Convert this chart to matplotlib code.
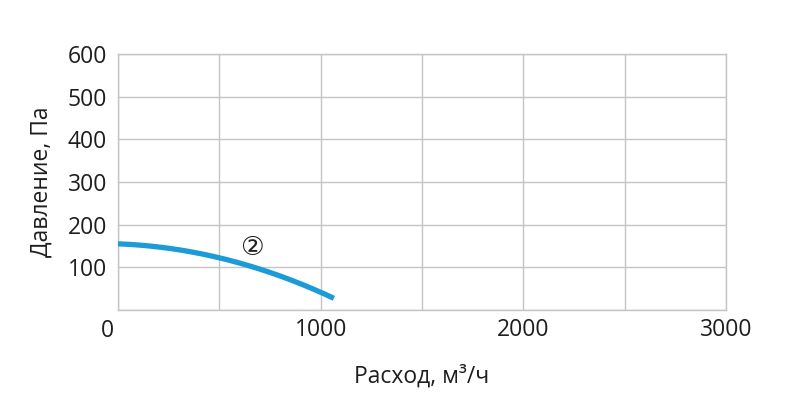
import numpy as np
import matplotlib.pyplot as plt

plt.rcParams['font.family'] = ['Open Sans', 'DejaVu Sans']

# curve
flow = [0, 250, 500, 750, 1000, 1065]
pressure = [155, 145, 122, 88, 42, 27]
curve_label = '②'
label_pos = (660, 146)

xticks = [0, 500, 1000, 1500, 2000, 2500, 3000]
xticklabels = ['', '', '1000', '', '2000', '', '3000']
yticks = [0, 100, 200, 300, 400, 500, 600]
yticklabels = ['', '100', '200', '300', '400', '500', '600']

fig = plt.figure(figsize=(7.9, 4.08), dpi=100)
ax = fig.add_axes([0.1494, 0.2402, 0.7696, 0.6274])

# smooth through the read points
xs = np.linspace(flow[0], flow[-1], 200)
coef = np.polyfit(flow, pressure, 3)
ax.plot(xs, np.polyval(coef, xs), color='#1b9bd7', lw=3.8, solid_capstyle='butt', zorder=3)
ax.text(label_pos[0], label_pos[1], curve_label, fontsize=19, ha='center', va='center',
        family=['DejaVu Sans'], color='#222222')

ax.set_xlim(0, 3000)
ax.set_ylim(0, 600)
ax.set_xticks(xticks)
ax.set_xticklabels(xticklabels)
ax.set_yticks(yticks)
ax.set_yticklabels(yticklabels)
ax.grid(True, color='#c4c4c4', lw=1)
ax.tick_params(length=0, labelsize=16.5, colors='#1e1e1e')
ax.tick_params(axis='x', pad=6)
ax.tick_params(axis='y', pad=8)
for lab in ax.get_xticklabels():
    lab.set_x(lab.get_position()[0])
# origin label sits left of the axis corner, under the y labels
ax.annotate('0', xy=(0, 0), xytext=(-11, -21), textcoords='offset pixels',
            ha='center', va='center', fontsize=16.5, color='#1e1e1e', annotation_clip=False)
for s in ax.spines.values():
    s.set_color('#c4c4c4')
    s.set_linewidth(1)

ax.set_xlabel('Расход, м³/ч', fontsize=16.5, color='#1e1e1e', labelpad=16)
ax.set_ylabel('Давление, Па', fontsize=16.5, color='#1e1e1e', labelpad=10)

fig.savefig('out.png', dpi=100)
